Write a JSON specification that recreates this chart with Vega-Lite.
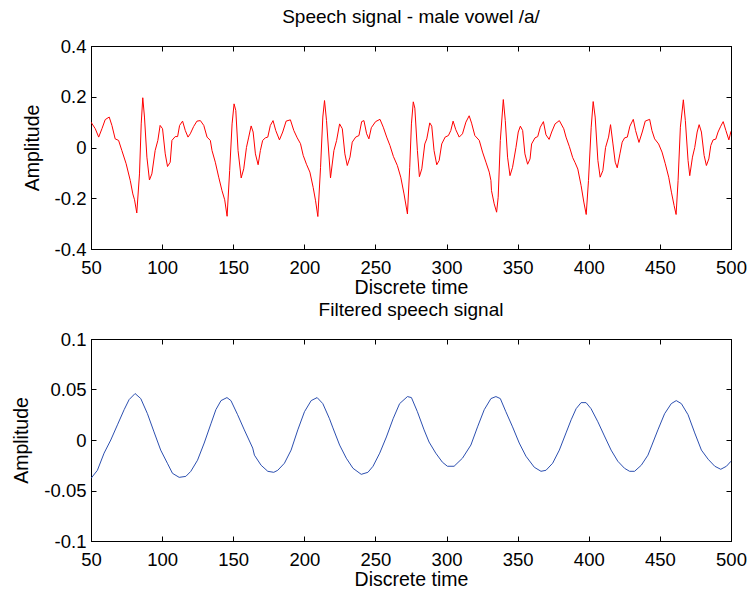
{
  "$schema": "https://vega.github.io/schema/vega-lite/v6.json",
  "background": "white",
  "padding": {"left": 11, "top": 7, "right": 5, "bottom": 0},
  "spacing": 2,
  "config": {
    "font": "Liberation Sans",
    "view": {"stroke": "black", "strokeWidth": 1},
    "axis": {
      "grid": false,
      "domainColor": "black",
      "tickColor": "black",
      "tickSize": -5,
      "labelColor": "black",
      "titleColor": "black",
      "labelFont": "Liberation Sans",
      "titleFont": "Liberation Sans",
      "labelFontSize": 18.5,
      "titleFontSize": 19.5,
      "titleFontWeight": "normal"
    },
    "axisX": {"labelPadding": 14, "titlePadding": 2},
    "axisY": {"labelPadding": 10, "titlePadding": 12},
    "title": {"font": "Liberation Sans", "fontSize": 19, "fontWeight": "normal", "color": "black", "frame": "group", "anchor": "middle"}
  },
  "datasets": {
    "speech": [
      {"t": 50, "amplitude": 0.100}, {"t": 53.0, "amplitude": 0.074}, {"t": 55.4, "amplitude": 0.041}, {"t": 57.7, "amplitude": 0.074},
      {"t": 60.0, "amplitude": 0.110}, {"t": 62.8, "amplitude": 0.120}, {"t": 64.7, "amplitude": 0.087}, {"t": 67.0, "amplitude": 0.034},
      {"t": 69.4, "amplitude": 0.028}, {"t": 71.7, "amplitude": -0.012}, {"t": 74.7, "amplitude": -0.064}, {"t": 77.6, "amplitude": -0.130},
      {"t": 79.4, "amplitude": -0.183}, {"t": 80.6, "amplitude": -0.206}, {"t": 82.2, "amplitude": -0.258}, {"t": 84.1, "amplitude": -0.104},
      {"t": 85.3, "amplitude": 0.093}, {"t": 86.4, "amplitude": 0.196}, {"t": 87.6, "amplitude": 0.120}, {"t": 89.3, "amplitude": -0.038},
      {"t": 91.1, "amplitude": -0.128}, {"t": 92.8, "amplitude": -0.104}, {"t": 95.1, "amplitude": -0.012}, {"t": 97.0, "amplitude": 0.028},
      {"t": 98.6, "amplitude": 0.087}, {"t": 100.3, "amplitude": 0.074}, {"t": 102.2, "amplitude": -0.025}, {"t": 103.8, "amplitude": -0.075},
      {"t": 105.7, "amplitude": -0.058}, {"t": 106.9, "amplitude": 0.028}, {"t": 109.2, "amplitude": 0.043}, {"t": 110.9, "amplitude": 0.043},
      {"t": 112.3, "amplitude": 0.087}, {"t": 114.4, "amplitude": 0.104}, {"t": 116.3, "amplitude": 0.067}, {"t": 118.2, "amplitude": 0.041},
      {"t": 119.8, "amplitude": 0.054}, {"t": 122.2, "amplitude": 0.083}, {"t": 124.5, "amplitude": 0.104}, {"t": 126.9, "amplitude": 0.106},
      {"t": 129.3, "amplitude": 0.087}, {"t": 131.6, "amplitude": 0.041}, {"t": 133.9, "amplitude": 0.028}, {"t": 135.1, "amplitude": -0.012},
      {"t": 137.4, "amplitude": -0.058}, {"t": 139.8, "amplitude": -0.117}, {"t": 142.1, "amplitude": -0.170}, {"t": 144.0, "amplitude": -0.206},
      {"t": 145.7, "amplitude": -0.271}, {"t": 147.5, "amplitude": -0.091}, {"t": 149.2, "amplitude": 0.093}, {"t": 150.6, "amplitude": 0.172},
      {"t": 151.8, "amplitude": 0.146}, {"t": 153.4, "amplitude": -0.012}, {"t": 155.6, "amplitude": -0.120}, {"t": 157.4, "amplitude": -0.084},
      {"t": 159.3, "amplitude": 0.0}, {"t": 160.9, "amplitude": 0.041}, {"t": 162.6, "amplitude": 0.085}, {"t": 164.0, "amplitude": 0.061},
      {"t": 165.6, "amplitude": -0.025}, {"t": 167.5, "amplitude": -0.068}, {"t": 169.1, "amplitude": -0.012}, {"t": 170.7, "amplitude": 0.028},
      {"t": 172.6, "amplitude": 0.038}, {"t": 174.3, "amplitude": 0.041}, {"t": 176.1, "amplitude": 0.087}, {"t": 178.0, "amplitude": 0.106},
      {"t": 179.9, "amplitude": 0.067}, {"t": 182.5, "amplitude": 0.030}, {"t": 184.8, "amplitude": 0.061}, {"t": 187.2, "amplitude": 0.104},
      {"t": 190.2, "amplitude": 0.109}, {"t": 192.6, "amplitude": 0.067}, {"t": 195.0, "amplitude": 0.038}, {"t": 197.3, "amplitude": 0.015},
      {"t": 199.2, "amplitude": -0.031}, {"t": 201.5, "amplitude": -0.066}, {"t": 203.9, "amplitude": -0.097}, {"t": 206.2, "amplitude": -0.157},
      {"t": 207.9, "amplitude": -0.210}, {"t": 209.5, "amplitude": -0.272}, {"t": 211.4, "amplitude": -0.078}, {"t": 213.0, "amplitude": 0.120},
      {"t": 214.2, "amplitude": 0.185}, {"t": 215.6, "amplitude": 0.106}, {"t": 218.4, "amplitude": -0.120}, {"t": 220.8, "amplitude": -0.012},
      {"t": 222.7, "amplitude": 0.028}, {"t": 224.8, "amplitude": 0.093}, {"t": 226.7, "amplitude": 0.074}, {"t": 228.5, "amplitude": -0.025},
      {"t": 230.2, "amplitude": -0.071}, {"t": 232.1, "amplitude": -0.038}, {"t": 233.7, "amplitude": 0.021}, {"t": 236.1, "amplitude": 0.041},
      {"t": 238.4, "amplitude": 0.047}, {"t": 240.3, "amplitude": 0.102}, {"t": 241.9, "amplitude": 0.106}, {"t": 243.8, "amplitude": 0.054},
      {"t": 245.4, "amplitude": 0.034}, {"t": 247.1, "amplitude": 0.078}, {"t": 250.1, "amplitude": 0.102}, {"t": 253.2, "amplitude": 0.111},
      {"t": 255.5, "amplitude": 0.080}, {"t": 257.9, "amplitude": 0.041}, {"t": 260.2, "amplitude": 0.008}, {"t": 262.6, "amplitude": -0.035},
      {"t": 265.4, "amplitude": -0.071}, {"t": 267.8, "amplitude": -0.117}, {"t": 270.1, "amplitude": -0.183}, {"t": 272.5, "amplitude": -0.262},
      {"t": 274.1, "amplitude": -0.078}, {"t": 275.3, "amplitude": 0.093}, {"t": 276.6, "amplitude": 0.180}, {"t": 277.7, "amplitude": 0.155},
      {"t": 279.5, "amplitude": -0.012}, {"t": 280.9, "amplitude": -0.115}, {"t": 282.6, "amplitude": -0.084}, {"t": 284.7, "amplitude": 0.014},
      {"t": 286.1, "amplitude": 0.034}, {"t": 288.2, "amplitude": 0.097}, {"t": 289.6, "amplitude": 0.084}, {"t": 291.2, "amplitude": -0.012},
      {"t": 293.1, "amplitude": -0.068}, {"t": 294.8, "amplitude": -0.051}, {"t": 296.6, "amplitude": 0.014}, {"t": 299.0, "amplitude": 0.041},
      {"t": 301.3, "amplitude": 0.047}, {"t": 303.0, "amplitude": 0.067}, {"t": 304.6, "amplitude": 0.104}, {"t": 306.5, "amplitude": 0.070},
      {"t": 308.9, "amplitude": 0.041}, {"t": 311.2, "amplitude": 0.054}, {"t": 313.6, "amplitude": 0.100}, {"t": 315.9, "amplitude": 0.125},
      {"t": 317.6, "amplitude": 0.096}, {"t": 319.9, "amplitude": 0.047}, {"t": 323.0, "amplitude": 0.028}, {"t": 325.3, "amplitude": -0.018},
      {"t": 327.7, "amplitude": -0.058}, {"t": 330.0, "amplitude": -0.097}, {"t": 331.2, "amplitude": -0.130}, {"t": 331.6, "amplitude": -0.170},
      {"t": 333.5, "amplitude": -0.222}, {"t": 335.2, "amplitude": -0.255}, {"t": 336.3, "amplitude": -0.196}, {"t": 337.8, "amplitude": 0.028},
      {"t": 339.9, "amplitude": 0.189}, {"t": 341.3, "amplitude": 0.106}, {"t": 342.9, "amplitude": -0.038}, {"t": 344.6, "amplitude": -0.111},
      {"t": 346.4, "amplitude": -0.078}, {"t": 348.8, "amplitude": 0.0}, {"t": 350.4, "amplitude": 0.061}, {"t": 351.9, "amplitude": 0.084},
      {"t": 353.5, "amplitude": 0.067}, {"t": 355.1, "amplitude": -0.025}, {"t": 357.0, "amplitude": -0.066}, {"t": 358.7, "amplitude": -0.045},
      {"t": 359.8, "amplitude": 0.014}, {"t": 362.2, "amplitude": 0.038}, {"t": 364.1, "amplitude": 0.043}, {"t": 365.9, "amplitude": 0.080},
      {"t": 368.1, "amplitude": 0.102}, {"t": 369.9, "amplitude": 0.050}, {"t": 372.1, "amplitude": 0.032}, {"t": 373.9, "amplitude": 0.061},
      {"t": 376.3, "amplitude": 0.093}, {"t": 379.3, "amplitude": 0.106}, {"t": 382.4, "amplitude": 0.074}, {"t": 384.0, "amplitude": 0.041},
      {"t": 386.4, "amplitude": 0.003}, {"t": 388.7, "amplitude": -0.040}, {"t": 390.4, "amplitude": -0.060}, {"t": 392.3, "amplitude": -0.085},
      {"t": 394.6, "amplitude": -0.150}, {"t": 396.5, "amplitude": -0.215}, {"t": 398.2, "amplitude": -0.264}, {"t": 399.8, "amplitude": -0.130},
      {"t": 401.7, "amplitude": 0.080}, {"t": 403.1, "amplitude": 0.181}, {"t": 404.5, "amplitude": 0.120}, {"t": 406.4, "amplitude": -0.051},
      {"t": 408.0, "amplitude": -0.117}, {"t": 409.9, "amplitude": -0.091}, {"t": 411.8, "amplitude": 0.0}, {"t": 413.9, "amplitude": 0.041},
      {"t": 415.3, "amplitude": 0.090}, {"t": 417.0, "amplitude": 0.014}, {"t": 418.6, "amplitude": -0.058}, {"t": 420.0, "amplitude": -0.080},
      {"t": 421.9, "amplitude": -0.025}, {"t": 423.5, "amplitude": 0.021}, {"t": 425.2, "amplitude": 0.038}, {"t": 427.1, "amplitude": 0.041},
      {"t": 428.9, "amplitude": 0.084}, {"t": 431.3, "amplitude": 0.111}, {"t": 432.9, "amplitude": 0.067}, {"t": 435.3, "amplitude": 0.020},
      {"t": 437.6, "amplitude": 0.061}, {"t": 439.7, "amplitude": 0.104}, {"t": 442.8, "amplitude": 0.111}, {"t": 444.4, "amplitude": 0.067},
      {"t": 446.3, "amplitude": 0.034}, {"t": 449.1, "amplitude": 0.014}, {"t": 451.5, "amplitude": -0.018}, {"t": 453.8, "amplitude": -0.064},
      {"t": 456.2, "amplitude": -0.117}, {"t": 458.1, "amplitude": -0.176}, {"t": 460.0, "amplitude": -0.229}, {"t": 461.4, "amplitude": -0.264},
      {"t": 462.8, "amplitude": -0.130}, {"t": 464.4, "amplitude": 0.080}, {"t": 466.5, "amplitude": 0.188}, {"t": 467.9, "amplitude": 0.106},
      {"t": 469.8, "amplitude": -0.051}, {"t": 471.0, "amplitude": -0.111}, {"t": 472.9, "amplitude": -0.038}, {"t": 474.5, "amplitude": 0.0},
      {"t": 476.2, "amplitude": 0.061}, {"t": 477.6, "amplitude": 0.090}, {"t": 479.2, "amplitude": 0.061}, {"t": 481.1, "amplitude": -0.031},
      {"t": 482.7, "amplitude": -0.071}, {"t": 484.4, "amplitude": -0.045}, {"t": 485.8, "amplitude": 0.008}, {"t": 487.4, "amplitude": 0.030},
      {"t": 489.3, "amplitude": 0.033}, {"t": 490.9, "amplitude": 0.061}, {"t": 492.8, "amplitude": 0.084}, {"t": 494.5, "amplitude": 0.102},
      {"t": 496.4, "amplitude": 0.067}, {"t": 498.5, "amplitude": 0.030}, {"t": 500, "amplitude": 0.064}
    ],
    "filtered": [
      {"t": 50, "amplitude": -0.038}, {"t": 54.5, "amplitude": -0.030}, {"t": 59.2, "amplitude": -0.013}, {"t": 63.9, "amplitude": 0.0},
      {"t": 68.6, "amplitude": 0.015}, {"t": 73.3, "amplitude": 0.030}, {"t": 76.8, "amplitude": 0.040}, {"t": 81.0, "amplitude": 0.046},
      {"t": 85.0, "amplitude": 0.041}, {"t": 89.7, "amplitude": 0.026}, {"t": 94.3, "amplitude": 0.008}, {"t": 99.0, "amplitude": -0.010},
      {"t": 103.7, "amplitude": -0.023}, {"t": 107.3, "amplitude": -0.033}, {"t": 112.0, "amplitude": -0.037}, {"t": 116.7, "amplitude": -0.036},
      {"t": 120.2, "amplitude": -0.031}, {"t": 124.9, "amplitude": -0.020}, {"t": 129.6, "amplitude": -0.003}, {"t": 134.3, "amplitude": 0.016},
      {"t": 137.8, "amplitude": 0.030}, {"t": 141.4, "amplitude": 0.039}, {"t": 145.6, "amplitude": 0.042}, {"t": 148.4, "amplitude": 0.039},
      {"t": 153.1, "amplitude": 0.025}, {"t": 157.8, "amplitude": 0.010}, {"t": 163.7, "amplitude": -0.008}, {"t": 164.9, "amplitude": -0.015},
      {"t": 169.6, "amplitude": -0.025}, {"t": 174.3, "amplitude": -0.031}, {"t": 178.5, "amplitude": -0.032}, {"t": 181.3, "amplitude": -0.030},
      {"t": 186.0, "amplitude": -0.023}, {"t": 190.7, "amplitude": -0.010}, {"t": 195.4, "amplitude": 0.010}, {"t": 200.1, "amplitude": 0.028},
      {"t": 204.8, "amplitude": 0.039}, {"t": 209.0, "amplitude": 0.042}, {"t": 213.0, "amplitude": 0.036}, {"t": 217.7, "amplitude": 0.021},
      {"t": 220.1, "amplitude": 0.012}, {"t": 224.8, "amplitude": -0.005}, {"t": 229.5, "amplitude": -0.018}, {"t": 234.2, "amplitude": -0.028},
      {"t": 240.0, "amplitude": -0.034}, {"t": 244.7, "amplitude": -0.032}, {"t": 248.3, "amplitude": -0.026}, {"t": 253.0, "amplitude": -0.013},
      {"t": 257.7, "amplitude": 0.003}, {"t": 262.4, "amplitude": 0.021}, {"t": 267.0, "amplitude": 0.036}, {"t": 272.5, "amplitude": 0.043},
      {"t": 275.3, "amplitude": 0.042}, {"t": 279.5, "amplitude": 0.028}, {"t": 284.2, "amplitude": 0.010}, {"t": 287.7, "amplitude": -0.002},
      {"t": 292.4, "amplitude": -0.013}, {"t": 297.1, "amplitude": -0.022}, {"t": 300.6, "amplitude": -0.026}, {"t": 305.3, "amplitude": -0.026},
      {"t": 311.2, "amplitude": -0.018}, {"t": 317.1, "amplitude": -0.005}, {"t": 321.8, "amplitude": 0.013}, {"t": 326.5, "amplitude": 0.030},
      {"t": 331.2, "amplitude": 0.041}, {"t": 334.7, "amplitude": 0.043}, {"t": 337.8, "amplitude": 0.041}, {"t": 341.7, "amplitude": 0.028},
      {"t": 346.4, "amplitude": 0.013}, {"t": 351.1, "amplitude": -0.003}, {"t": 355.8, "amplitude": -0.016}, {"t": 361.7, "amplitude": -0.027},
      {"t": 366.4, "amplitude": -0.031}, {"t": 369.9, "amplitude": -0.030}, {"t": 374.6, "amplitude": -0.023}, {"t": 379.3, "amplitude": -0.010},
      {"t": 384.0, "amplitude": 0.007}, {"t": 387.6, "amplitude": 0.020}, {"t": 391.1, "amplitude": 0.031}, {"t": 394.6, "amplitude": 0.037},
      {"t": 398.1, "amplitude": 0.037}, {"t": 401.6, "amplitude": 0.031}, {"t": 406.4, "amplitude": 0.018}, {"t": 411.0, "amplitude": 0.004},
      {"t": 415.7, "amplitude": -0.010}, {"t": 420.4, "amplitude": -0.021}, {"t": 425.1, "amplitude": -0.028}, {"t": 428.7, "amplitude": -0.031},
      {"t": 432.2, "amplitude": -0.031}, {"t": 436.9, "amplitude": -0.025}, {"t": 441.6, "amplitude": -0.015}, {"t": 444.4, "amplitude": -0.005},
      {"t": 448.6, "amplitude": 0.010}, {"t": 453.3, "amplitude": 0.026}, {"t": 458.0, "amplitude": 0.036}, {"t": 461.5, "amplitude": 0.039},
      {"t": 465.1, "amplitude": 0.036}, {"t": 469.8, "amplitude": 0.025}, {"t": 474.5, "amplitude": 0.007}, {"t": 479.2, "amplitude": -0.010},
      {"t": 483.9, "amplitude": -0.019}, {"t": 488.6, "amplitude": -0.026}, {"t": 492.8, "amplitude": -0.029}, {"t": 496.8, "amplitude": -0.026},
      {"t": 500, "amplitude": -0.021}
    ]
  },
  "vconcat": [
    {
      "title": {"text": "Speech signal - male vowel /a/", "offset": 10},
      "width": 640,
      "height": 203,
      "data": {"name": "speech"},
      "layer": [
        {
          "mark": {"type": "line", "color": "#ff0000", "strokeWidth": 1, "clip": true},
          "encoding": {
            "x": {"field": "t", "type": "quantitative", "scale": {"domain": [50, 500], "nice": false, "zero": false},
                  "axis": {"values": [50, 100, 150, 200, 250, 300, 350, 400, 450, 500], "title": "Discrete time", "labelFlush": false}},
            "y": {"field": "amplitude", "type": "quantitative", "scale": {"domain": [-0.4, 0.4], "nice": false},
                  "axis": {"values": [-0.4, -0.2, 0, 0.2, 0.4], "title": "Amplitude", "labelExpr": "toString(datum.value)", "labelFlush": false}}
          }
        },
        {
          "mark": {"type": "line", "opacity": 0},
          "encoding": {
            "x": {"field": "t", "type": "quantitative", "axis": {"orient": "top", "values": [50, 100, 150, 200, 250, 300, 350, 400, 450, 500], "labels": false, "title": null}},
            "y": {"field": "amplitude", "type": "quantitative", "axis": {"orient": "right", "values": [-0.4, -0.2, 0, 0.2, 0.4], "labels": false, "title": null}}
          }
        }
      ],
      "resolve": {"axis": {"x": "independent", "y": "independent"}}
    },
    {
      "title": {"text": "Filtered speech signal", "offset": 10},
      "width": 640,
      "height": 202,
      "data": {"name": "filtered"},
      "layer": [
        {
          "mark": {"type": "line", "color": "#2c4fb0", "strokeWidth": 1, "clip": true},
          "encoding": {
            "x": {"field": "t", "type": "quantitative", "scale": {"domain": [50, 500], "nice": false, "zero": false},
                  "axis": {"values": [50, 100, 150, 200, 250, 300, 350, 400, 450, 500], "title": "Discrete time", "labelFlush": false}},
            "y": {"field": "amplitude", "type": "quantitative", "scale": {"domain": [-0.1, 0.1], "nice": false},
                  "axis": {"values": [-0.1, -0.05, 0, 0.05, 0.1], "title": "Amplitude", "labelExpr": "toString(datum.value)", "labelFlush": false}}
          }
        },
        {
          "mark": {"type": "line", "opacity": 0},
          "encoding": {
            "x": {"field": "t", "type": "quantitative", "axis": {"orient": "top", "values": [50, 100, 150, 200, 250, 300, 350, 400, 450, 500], "labels": false, "title": null}},
            "y": {"field": "amplitude", "type": "quantitative", "axis": {"orient": "right", "values": [-0.1, -0.05, 0, 0.05, 0.1], "labels": false, "title": null}}
          }
        }
      ],
      "resolve": {"axis": {"x": "independent", "y": "independent"}}
    }
  ]
}
